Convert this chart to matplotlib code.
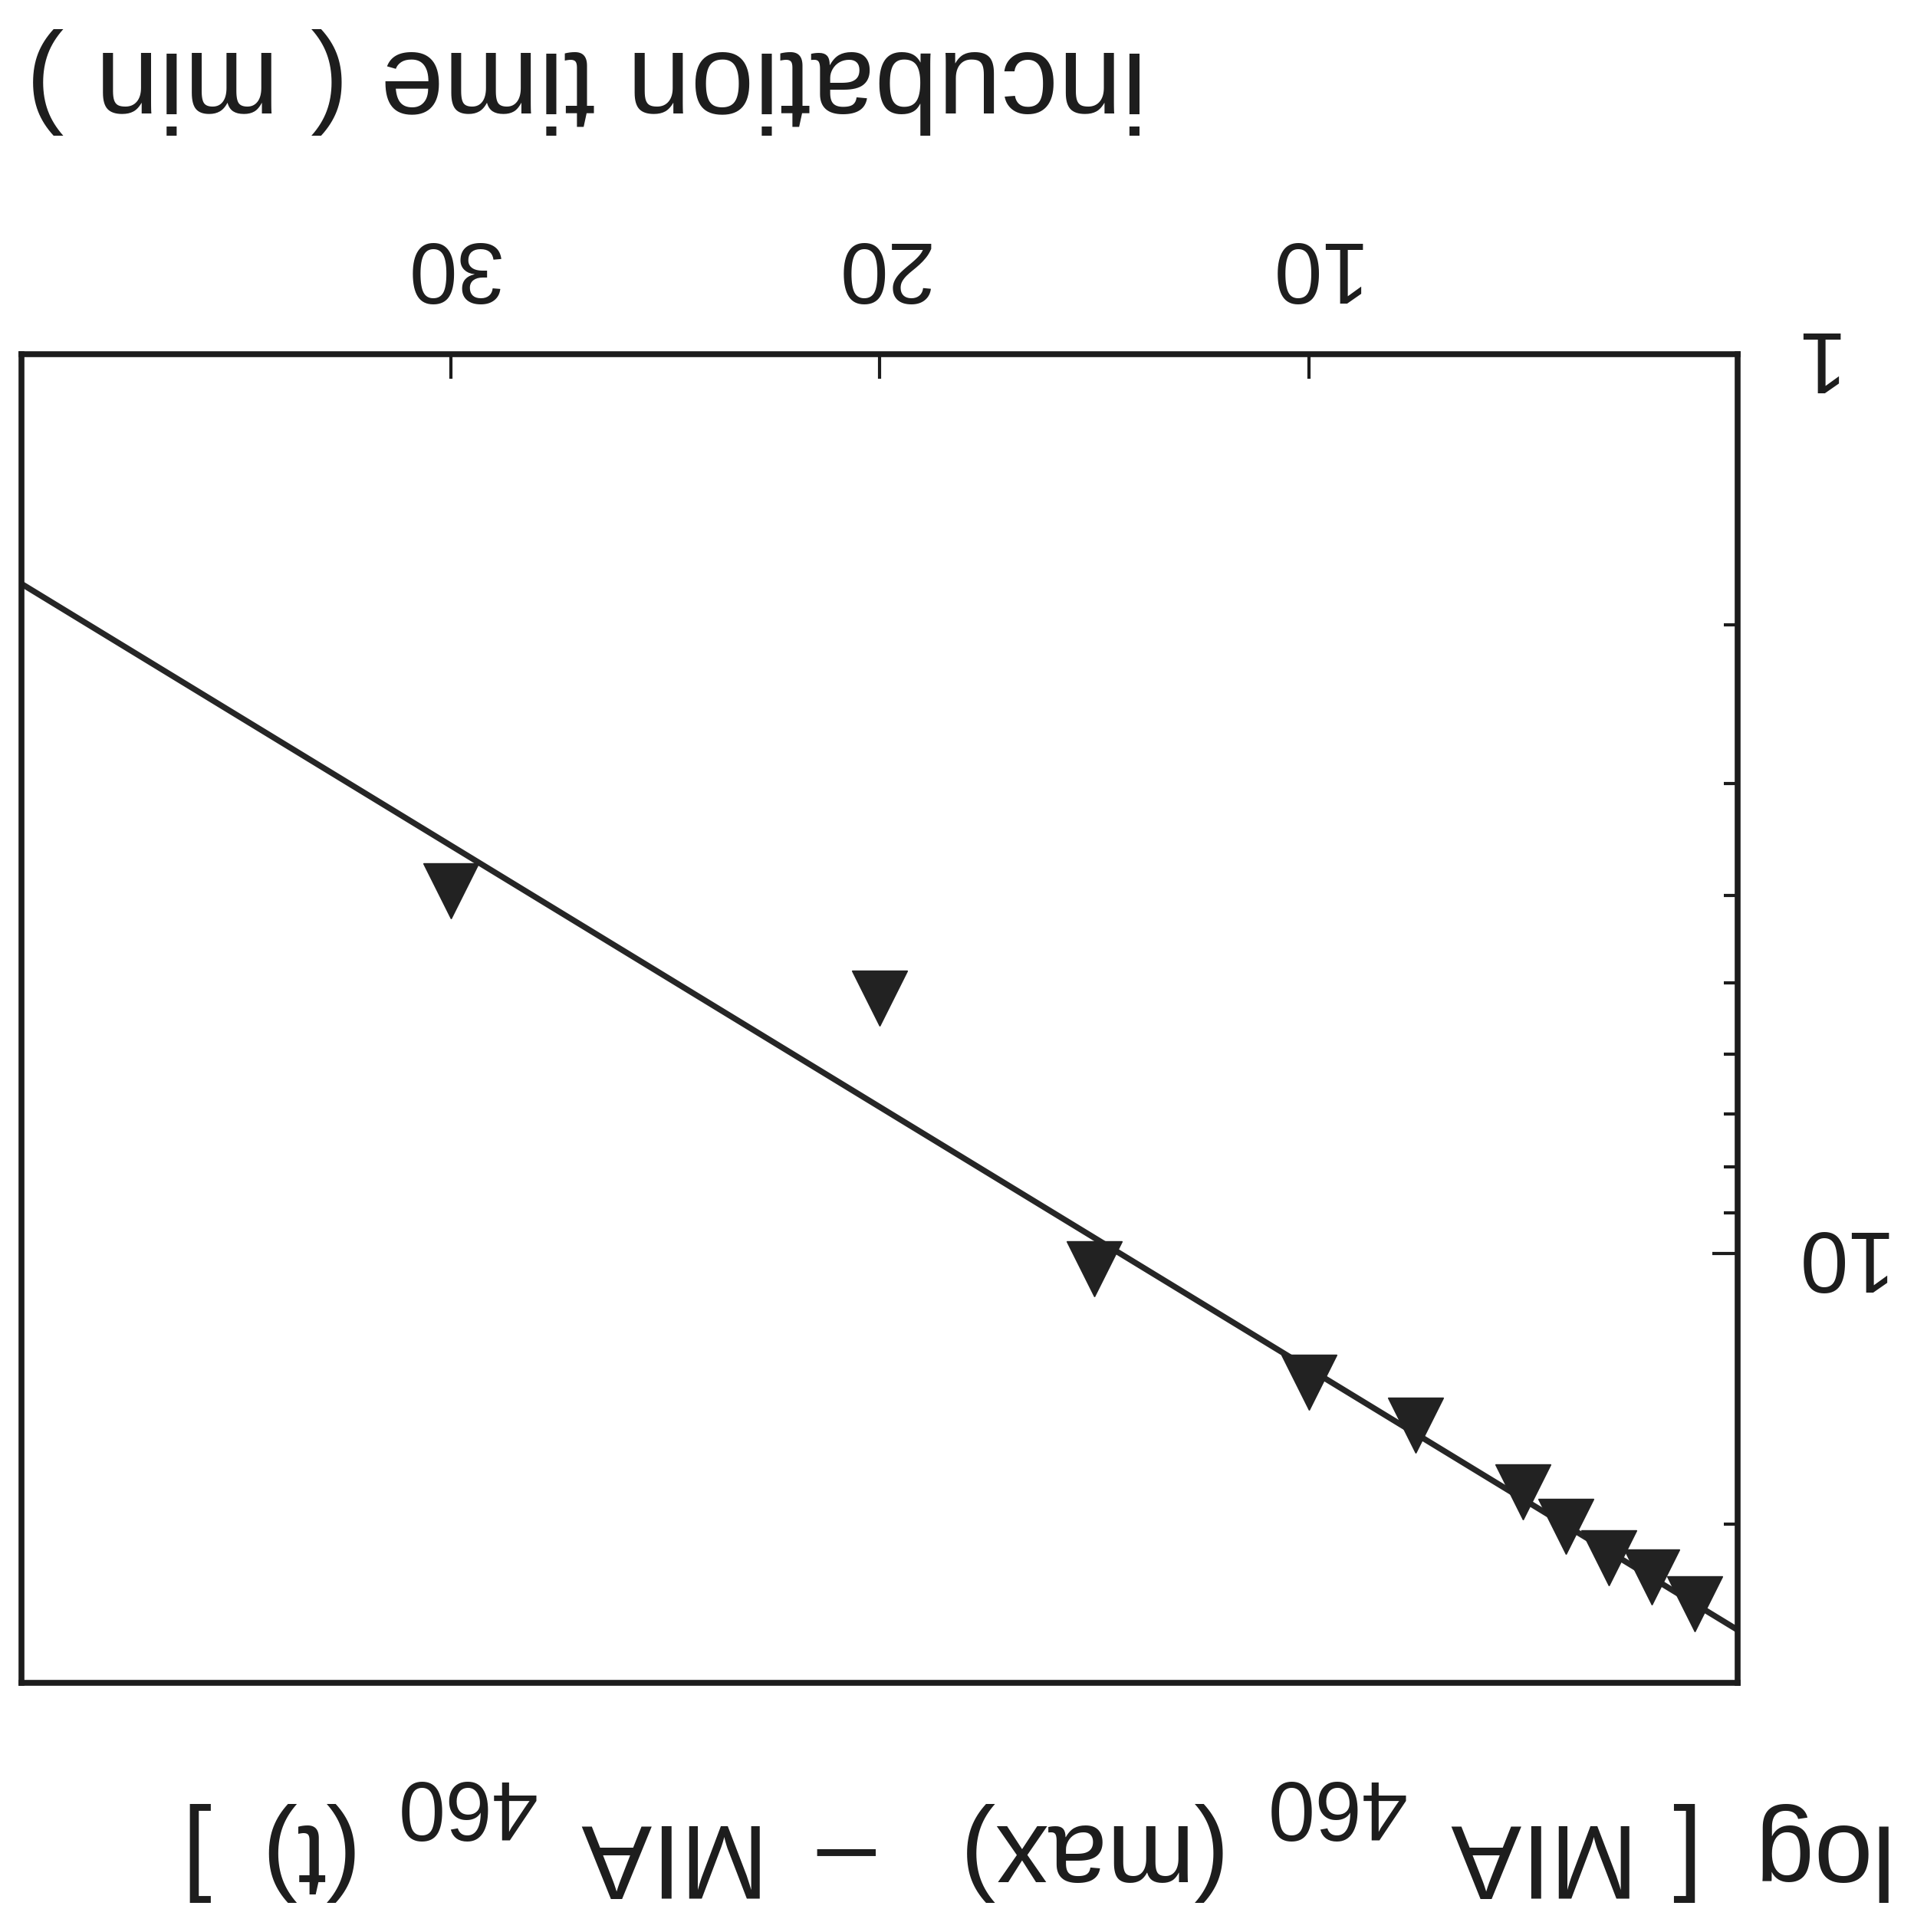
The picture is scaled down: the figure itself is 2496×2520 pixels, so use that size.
import matplotlib
matplotlib.use("Agg")
import matplotlib.pyplot as plt
from matplotlib.ticker import NullFormatter

plt.rcParams['font.family'] = ['Liberation Sans', 'DejaVu Sans']

time_min = [30, 20, 15, 10, 7.5, 5, 4, 3, 2, 1]
mia_diff = [3.95, 5.20, 10.4, 13.9, 15.5, 18.4, 20.1, 21.8, 22.9, 24.5]
fit_time = [0, 40]
fit_diff = [26.2, 1.80]
x_ticks = [10, 20, 30]
x_ticklabels = ['10', '20', '30']
y_ticks = [1, 10]
y_ticklabels = ['1', '10']

W, H = 2496, 2520
fig = plt.figure(figsize=(W / 100, H / 100), dpi=100)
ax = fig.add_axes([28 / W, (H - 2195) / H, (2266 - 28) / W, (2195 - 462) / H])

ink = '#1c1c1c'
ax.plot(fit_time, fit_diff, color='#262626', lw=5.5, zorder=2)
ax.plot(time_min, mia_diff, ls='none', marker='v', ms=52, color='#222222',
        mec='#222222', zorder=3)

ax.set_yscale('log')
# whole chart is shown rotated by 180 degrees
ax.set_xlim(40, 0)
ax.set_ylim(30, 1)

ax.set_xticks(x_ticks, x_ticklabels)
ax.set_yticks(y_ticks, y_ticklabels)
ax.yaxis.set_minor_formatter(NullFormatter())

ax.tick_params(axis='x', which='both', top=True, bottom=False, labeltop=True,
               labelbottom=False, direction='in', length=23, width=3, pad=46,
               labelsize=81, labelrotation=180, colors=ink)
ax.tick_params(axis='y', which='both', right=True, left=False, labelright=True,
               labelleft=False, direction='in', width=3, pad=46,
               labelsize=81, labelrotation=180, colors=ink)
ax.tick_params(axis='y', which='major', length=24)
ax.tick_params(axis='y', which='minor', length=13)
for lab in ax.get_yticklabels():
    lab.set_va('center')

for sp in ax.spines.values():
    sp.set_linewidth(5.5)
    sp.set_color(ink)

# x label (upside down, top left)
fig.text(765 / W, (H - 67) / H, 'incubation time ( min )', fontsize=107,
         rotation=180, rotation_mode='anchor', ha='center', va='baseline',
         color=ink)

# y label built from pieces so the subscripts can be sized like the scan
# (text, size, centre x in px, baseline y in px from bottom)
pieces = [('log', 99, 2362, 140), ('[', 99, 2182, 140), ('MIA', 99, 1991, 140),
          ('460', 79, 1740, 197), ('(max)', 99, 1411, 140),
          ('\u2013', 99, 1104, 140), ('MIA', 99, 857, 140), ('460', 79, 606, 197),
          ('(t)', 99, 390, 140), (']', 99, 255, 140)]
for s, size, cx, by in pieces:
    fig.text(cx / W, by / H, s, fontsize=size, rotation=180,
             rotation_mode='anchor', ha='center', va='baseline', color=ink)

fig.savefig('out.png', dpi=100, facecolor='white')
